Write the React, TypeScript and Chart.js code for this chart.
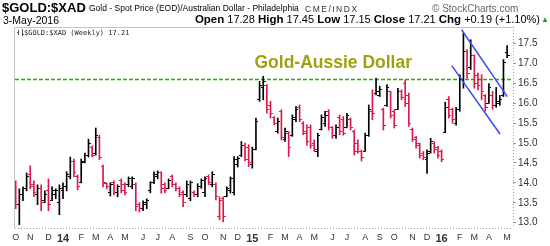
import React, { useEffect, useRef } from 'react';
import { Chart, registerables } from 'chart.js';

Chart.register(...registerables);

// ---- data (weekly bars, first bar = week ending 4-Oct-2013) ----
const firstWeek = '2013-10-04';

const opens = [
  13.95, 13.45, 13.7, 13.85, 14.2, 13.95, 13.7, 13.85, 13.55, 13.8,
  13.55, 13.7, 13.5, 13.8, 13.9, 14.15, 14.55, 14.15, 14.0, 14.55,
  14.7, 14.9, 14.75, 15.15, 14.4, 13.98, 13.75, 14.0, 13.75, 14.05,
  13.95, 13.95, 13.9, 13.95, 13.45, 13.35, 13.45, 13.8, 14.0, 14.15,
  14.25, 13.95, 13.85, 14.15, 13.95, 13.85, 13.75, 13.7, 13.6, 13.75,
  13.7, 13.9, 13.75, 14.15, 13.95, 13.95, 13.15, 13.6, 13.65, 13.8,
  13.75, 14.45, 14.7, 14.95, 14.9, 14.45, 14.85, 16.1, 16.4, 16.45,
  15.95, 15.65, 15.3, 15.8, 15.1, 15.25, 15.2, 15.6, 15.9, 15.5,
  15.3, 15.4, 15.0, 14.8, 15.35, 15.5, 15.8, 15.4, 15.2, 15.65,
  15.6, 15.4, 15.6, 15.3, 15.0, 14.8, 14.8, 15.2, 15.8, 16.25,
  16.2, 15.85, 15.95, 16.3, 15.8, 15.85, 16.3, 16.5, 16.2, 15.35,
  15.15, 15.0, 14.75, 14.6, 14.8, 15.0, 14.9, 14.8, 15.26, 16.1,
  15.85, 15.5, 15.85, 16.6, 17.3, 16.9, 17.2, 16.7, 16.6, 16.2,
  16.0, 16.2, 15.95, 16.05, 16.2, 17.28,
];
const highs = [
  14.05, 13.85, 13.9, 14.25, 14.43, 14.05, 13.95, 13.95, 13.8, 14.1,
  13.9, 13.85, 13.95, 14.0, 14.28, 14.65, 14.6, 14.2, 14.6, 14.75,
  15.1, 14.93, 15.38, 15.2, 14.45, 14.0, 14.0, 14.05, 13.95, 14.1,
  14.0, 14.15, 14.15, 14.0, 13.5, 13.55, 13.6, 14.03, 14.28, 14.3,
  14.28, 14.0, 14.1, 14.2, 14.0, 13.9, 13.8, 14.05, 14.05, 13.8,
  13.98, 14.1, 14.15, 14.2, 14.28, 14.0, 13.65, 13.65, 13.9, 14.15,
  14.66, 14.66, 15.04, 15.0, 14.96, 14.9, 15.63, 16.55, 16.68, 16.47,
  16.05, 15.67, 15.63, 15.84, 15.38, 15.29, 15.71, 15.92, 15.96, 15.54,
  15.46, 15.46, 15.08, 15.25, 15.71, 15.8, 15.84, 15.42, 15.46, 15.71,
  15.67, 15.75, 15.63, 15.33, 15.08, 14.83, 15.25, 15.96, 16.34, 16.63,
  16.43, 15.88, 16.47, 16.3, 15.84, 16.38, 16.34, 16.59, 16.26, 15.38,
  15.17, 15.0, 14.79, 14.83, 15.12, 15.04, 14.92, 14.83, 16.03, 16.17,
  15.88, 15.9, 16.72, 17.77, 17.35, 17.6, 17.22, 16.76, 16.72, 16.22,
  16.5, 16.3, 16.4, 16.2, 17.1, 17.45,
];
const lows = [
  13.35, 12.95, 13.55, 13.8, 13.85, 13.65, 13.45, 13.3, 13.5, 13.3,
  13.55, 13.6, 13.2, 13.6, 13.8, 14.1, 14.15, 13.82, 14.0, 14.5,
  14.65, 14.65, 14.7, 14.58, 13.9, 13.85, 13.67, 13.7, 13.65, 13.75,
  13.7, 13.9, 13.85, 13.3, 13.27, 13.3, 13.35, 13.75, 13.98, 14.1,
  13.74, 13.75, 13.85, 13.9, 13.8, 13.65, 13.4, 13.65, 13.55, 13.65,
  13.65, 13.86, 13.65, 13.95, 13.9, 13.57, 13.07, 13.02, 13.65, 13.74,
  13.7, 14.4, 14.66, 14.55, 14.41, 14.37, 14.83, 16.05, 16.09, 15.75,
  15.63, 15.46, 15.25, 15.08, 15.04, 14.66, 15.17, 15.54, 15.54, 15.21,
  14.95, 14.87, 14.79, 14.66, 15.33, 15.42, 15.33, 15.12, 15.12, 15.21,
  15.2, 15.38, 15.33, 14.7, 14.75, 14.55, 14.79, 15.17, 15.59, 16.21,
  16.17, 15.33, 15.92, 15.63, 15.38, 15.84, 16.09, 15.92, 15.42, 15.04,
  14.87, 14.62, 14.58, 14.24, 14.75, 14.75, 14.62, 14.53, 15.26, 15.63,
  15.5, 15.45, 15.8, 16.38, 16.63, 16.85, 16.38, 16.34, 16.09, 15.8,
  16.0, 15.85, 15.9, 15.95, 16.17, 17.15,
];
const closes = [
  13.45, 13.7, 13.85, 14.15, 13.9, 13.75, 13.85, 13.5, 13.7, 13.45,
  13.8, 13.82, 13.85, 13.9, 14.2, 14.55, 14.25, 13.9, 14.5, 14.7,
  15.0, 14.7, 15.2, 14.65, 14.0, 13.9, 13.95, 13.75, 13.9, 13.8,
  13.75, 14.1, 14.12, 13.4, 13.35, 13.5, 13.55, 14.0, 14.2, 14.25,
  13.85, 13.8, 14.05, 13.95, 13.85, 13.7, 13.5, 13.95, 14.0, 13.7,
  13.9, 14.05, 14.1, 14.0, 14.2, 13.65, 13.55, 13.15, 13.85, 14.1,
  14.6, 14.62, 14.95, 14.6, 14.5, 14.85, 15.55, 16.45, 16.55, 15.85,
  15.75, 15.5, 15.55, 15.15, 15.3, 14.9, 15.65, 15.85, 15.6, 15.25,
  15.05, 14.95, 14.85, 15.2, 15.65, 15.7, 15.4, 15.2, 15.4, 15.3,
  15.25, 15.7, 15.4, 14.8, 14.78, 14.65, 15.2, 15.85, 15.75, 16.3,
  16.35, 15.45, 16.4, 15.7, 15.45, 16.3, 16.15, 16.0, 15.5, 15.1,
  14.95, 14.7, 14.65, 14.75, 15.05, 14.85, 14.7, 14.6, 15.9, 15.7,
  15.6, 15.85, 16.6, 17.3, 16.75, 17.2, 16.5, 16.45, 16.3, 15.9,
  16.4, 15.95, 16.0, 16.1, 17.02, 17.21,
];

const yTickValues = [13.0, 13.5, 14.0, 14.5, 15.0, 15.5, 16.0, 16.5, 17.0, 17.5];
const monthLetters = ['J', 'F', 'M', 'A', 'M', 'J', 'J', 'A', 'S', 'O', 'N', 'D'];
const resistanceLevel = 16.6;
const upperChannel = [
  { x: 122.5, y: 17.85 },
  { x: 135.05, y: 16.17 },
];
const lowerChannel = [
  { x: 119.8, y: 16.95 },
  { x: 133.05, y: 15.23 },
];
const chartTitle = 'Gold-Aussie Dollar';
const legendText = '$GOLD:$XAD (Weekly) 17.21';

// ---- derived ----
const weekDates = opens.map((_, i) => {
  const d = new Date(firstWeek + 'T12:00:00Z');
  d.setUTCDate(d.getUTCDate() + 7 * i);
  return d;
});
const monthTicks: { index: number; label: string; year: boolean }[] = [];
weekDates.forEach((d, i) => {
  if (i === 0 || d.getUTCMonth() !== weekDates[i - 1].getUTCMonth()) {
    const m = d.getUTCMonth();
    monthTicks.push({
      index: i,
      label: m === 0 ? String(d.getUTCFullYear() % 100) : monthLetters[m],
      year: m === 0,
    });
  }
});

const UP = '#000000';
const DOWN = '#e0174a';
const isDown = (i: number) => (i === 0 ? closes[i] < opens[i] : closes[i] < closes[i - 1]);
const barColors = closes.map((_, i) => (isDown(i) ? DOWN : UP));

function makeTick(color: string, side: 'left' | 'right') {
  const c = document.createElement('canvas');
  c.width = 5;
  c.height = 1;
  const g = c.getContext('2d')!;
  g.fillStyle = color;
  g.fillRect(side === 'left' ? 0 : 3, 0, 2, 1);
  return c;
}

const FONT = '"Liberation Sans", Arial, sans-serif';

export default function App() {
  const ref = useRef<HTMLCanvasElement | null>(null);

  useEffect(() => {
    if (!ref.current) return;
    const openUp = makeTick(UP, 'left');
    const openDown = makeTick(DOWN, 'left');
    const closeUp = makeTick(UP, 'right');
    const closeDown = makeTick(DOWN, 'right');

    const xMin = -0.19;
    const xMax = opens.length - 1 + 1.62;

    const overlay = {
      id: 'overlay',
      beforeDatasetsDraw(chart: any) {
        const { ctx, chartArea: a } = chart;
        ctx.save();
        ctx.strokeStyle = '#c4c4c4';
        ctx.lineWidth = 1;
        ctx.beginPath();
        ctx.moveTo(Math.round(a.left) - 0.5, Math.round(a.bottom));
        ctx.lineTo(Math.round(a.left) - 0.5, Math.round(a.top) + 0.5);
        ctx.lineTo(Math.round(a.right), Math.round(a.top) + 0.5);
        ctx.stroke();
        ctx.setLineDash([1, 2]);
        ctx.strokeStyle = '#a0a0a0';
        ctx.beginPath();
        ctx.moveTo(Math.round(a.right) + 0.5, Math.round(a.top));
        ctx.lineTo(Math.round(a.right) + 0.5, Math.round(a.bottom));
        ctx.moveTo(Math.round(a.left), Math.round(a.bottom) + 0.5);
        ctx.lineTo(Math.round(a.right), Math.round(a.bottom) + 0.5);
        ctx.stroke();
        ctx.restore();
      },
      afterDraw(chart: any) {
        const { ctx, chartArea: a } = chart;
        ctx.save();
        // legend glyph
        ctx.strokeStyle = '#555';
        ctx.lineWidth = 1;
        const gx = a.left + 3;
        const gy = a.top + 2;
        ctx.beginPath();
        ctx.moveTo(gx + 0.5, gy + 1);
        ctx.lineTo(gx + 0.5, gy + 6);
        ctx.moveTo(gx - 1, gy + 3.5);
        ctx.lineTo(gx + 0.5, gy + 3.5);
        ctx.moveTo(gx + 4.5, gy);
        ctx.lineTo(gx + 4.5, gy + 7);
        ctx.moveTo(gx + 4.5, gy + 5.5);
        ctx.lineTo(gx + 6, gy + 5.5);
        ctx.stroke();
        ctx.fillStyle = '#222';
        ctx.font = '7px "DejaVu Sans Mono", monospace';
        ctx.textBaseline = 'alphabetic';
        ctx.fillText(legendText, a.left + 9, a.top + 8);
        // title annotation
        ctx.font = 'bold 17.5px ' + FONT;
        ctx.fillStyle = '#a0a010';
        const w = ctx.measureText(chartTitle).width;
        ctx.fillText(chartTitle, 412 - w, 68);
        ctx.restore();
      },
    };

    const chart = new Chart(ref.current, {
      type: 'bar',
      data: {
        datasets: [
          {
            type: 'line',
            data: [
              { x: xMin, y: resistanceLevel },
              { x: xMax, y: resistanceLevel },
            ],
            borderColor: '#1fb400',
            backgroundColor: '#1fb400',
            borderWidth: 1.4,
            borderDash: [4, 2],
            pointRadius: 0,
            fill: false,
            order: 10,
          } as any,
          {
            type: 'bar',
            data: opens.map((_, i) => ({ x: i, y: [lows[i], highs[i]] })),
            backgroundColor: barColors,
            borderWidth: 0,
            barThickness: 1,
            grouped: false,
            order: 5,
          } as any,
          {
            type: 'scatter',
            data: opens.map((v, i) => ({ x: i, y: v })),
            pointStyle: opens.map((_, i) => (isDown(i) ? openDown : openUp)),
            pointRadius: 2,
            order: 4,
          } as any,
          {
            type: 'scatter',
            data: closes.map((v, i) => ({ x: i, y: v })),
            pointStyle: closes.map((_, i) => (isDown(i) ? closeDown : closeUp)),
            pointRadius: 2,
            order: 4,
          } as any,
          {
            type: 'line',
            data: upperChannel,
            borderColor: '#3c4cf0',
            borderWidth: 1.5,
            pointRadius: 0,
            order: 1,
          } as any,
          {
            type: 'line',
            data: lowerChannel,
            borderColor: '#3c4cf0',
            borderWidth: 1.5,
            pointRadius: 0,
            order: 1,
          } as any,
        ],
      },
      options: {
        responsive: false,
        animation: false,
        events: [],
        layout: { padding: { left: 15, top: 27, right: 0, bottom: 0 } },
        plugins: { legend: { display: false }, tooltip: { enabled: false } },
        scales: {
          x: {
            type: 'linear',
            min: xMin,
            max: xMax,
            offset: false,
            grid: { display: false, drawTicks: false, offset: false },
            border: { display: false },
            afterFit: (s: any) => {
              s.height = 18;
            },
            afterBuildTicks: (s: any) => {
              s.ticks = monthTicks.map((t) => ({ value: t.index }));
            },
            ticks: {
              autoSkip: false,
              maxRotation: 0,
              padding: 4,
              color: '#333',
              callback: (_v: any, i: number) => monthTicks[i]?.label ?? '',
              font: (c: any) => {
                const t = monthTicks[c.index];
                return t && t.year
                  ? { family: FONT, size: 11, weight: 'bold' }
                  : { family: FONT, size: 9 };
              },
            },
          },
          y: {
            type: 'linear',
            position: 'right',
            min: 12.865,
            max: 17.92,
            grid: {
              display: true,
              drawOnChartArea: false,
              drawTicks: true,
              tickLength: 3,
              color: '#999',
            },
            border: { display: false },
            afterFit: (s: any) => {
              s.width = 37;
            },
            afterBuildTicks: (s: any) => {
              s.ticks = yTickValues.map((v) => ({ value: v }));
            },
            ticks: {
              padding: 2,
              color: '#333',
              font: { family: FONT, size: 10 },
              callback: (v: any) => Number(v).toFixed(1),
            },
          },
        },
      } as any,
      plugins: [overlay],
    });
    return () => chart.destroy();
  }, []);

  const bold = { fontWeight: 'bold' as const, fontSize: 11.5 };
  return (
    <div
      style={{
        position: 'fixed',
        left: 0,
        top: 0,
        width: 550,
        height: 246,
        background: '#fff',
        overflow: 'hidden',
        fontFamily: FONT,
        color: '#000',
      }}
    >
      <canvas
        ref={ref}
        width={550}
        height={246}
        style={{ position: 'absolute', left: 0, top: 0, width: 550, height: 246 }}
      />
      <div style={{ position: 'absolute', left: 2, top: 1, fontSize: 13, fontWeight: 'bold', lineHeight: '13px', whiteSpace: 'nowrap' }}>
        $GOLD:$XAD
      </div>
      <div style={{ position: 'absolute', left: 89, top: 4, fontSize: 8.5, lineHeight: '9px', whiteSpace: 'nowrap' }}>
        Gold - Spot Price (EOD)/Australian Dollar - Philadelphia
      </div>
      <div style={{ position: 'absolute', left: 305, top: 5, fontSize: 8.5, lineHeight: '8px', letterSpacing: 1.5, color: '#333', whiteSpace: 'nowrap' }}>
        CME/INDX
      </div>
      <div style={{ position: 'absolute', left: 432, top: 4, fontSize: 10, lineHeight: '10px', color: '#666', whiteSpace: 'nowrap' }}>
        © StockCharts.com
      </div>
      <div style={{ position: 'absolute', left: 3, top: 15, fontSize: 10.5, lineHeight: '10px', whiteSpace: 'nowrap' }}>
        3-May-2016
      </div>
      <div style={{ position: 'absolute', right: 10, top: 14, fontSize: 11, lineHeight: '11px', whiteSpace: 'nowrap', textAlign: 'right' }}>
        <span style={bold}>Open</span> 17.28 <span style={bold}>High</span> 17.45{' '}
        <span style={bold}>Low</span> 17.15 <span style={bold}>Close</span> 17.21{' '}
        <span style={bold}>Chg</span> +0.19 (+1.10%)
      </div>
      <div style={{ position: 'absolute', left: 541, top: 16, fontSize: 8, lineHeight: '8px', color: '#2a9a2a' }}>▲</div>
    </div>
  );
}
